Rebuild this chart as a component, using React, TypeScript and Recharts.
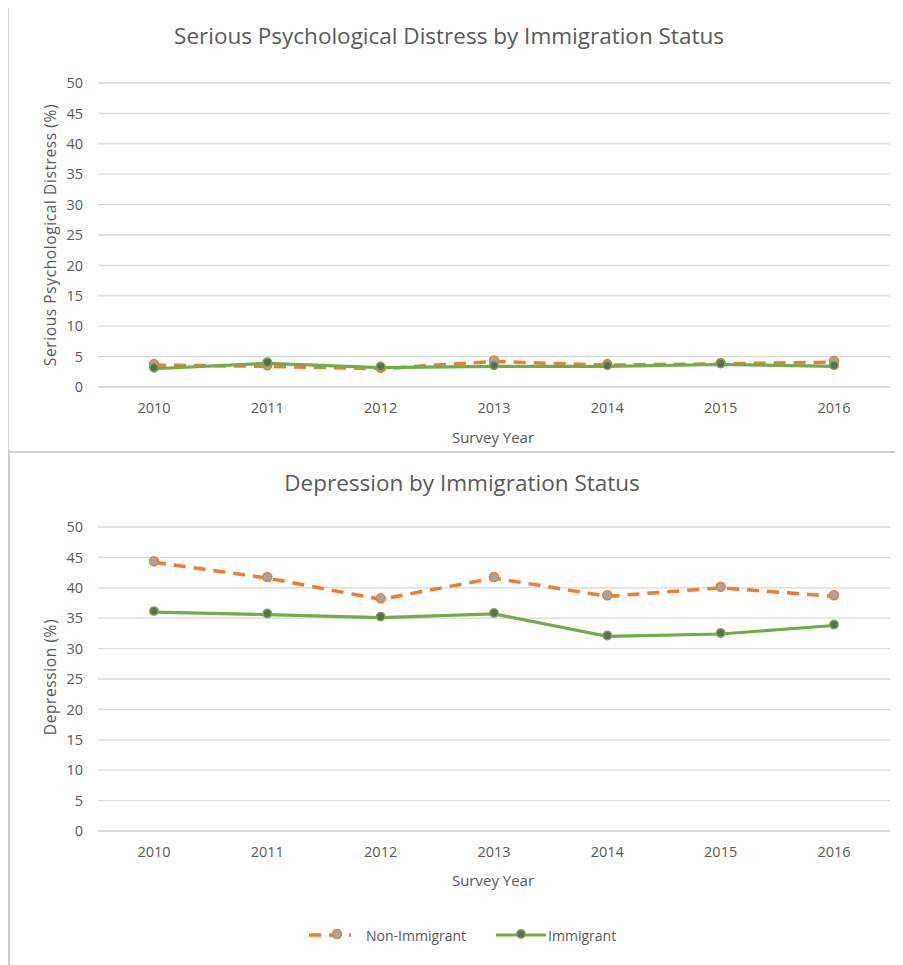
import React from 'react';
import { LineChart, Line, XAxis, YAxis, CartesianGrid } from 'recharts';

const years = ['2010', '2011', '2012', '2013', '2014', '2015', '2016'];
const spdNonImmigrant = [3.6, 3.4, 3.0, 4.2, 3.6, 3.8, 4.1];
const spdImmigrant = [3.0, 3.9, 3.2, 3.4, 3.4, 3.7, 3.4];
const depNonImmigrant = [44.2, 41.6, 38.1, 41.6, 38.6, 40.0, 38.6];
const depImmigrant = [36.0, 35.6, 35.1, 35.7, 32.0, 32.4, 33.8];
const yTicks = [0, 5, 10, 15, 20, 25, 30, 35, 40, 45, 50];

const spdData = years.map((y, i) => ({ year: y, non: spdNonImmigrant[i], imm: spdImmigrant[i] }));
const depData = years.map((y, i) => ({ year: y, non: depNonImmigrant[i], imm: depImmigrant[i] }));

const ORANGE = '#ED7D31';
const GREEN = '#70AD47';
const TEXT = '#595959';
const GRID = '#d9d9d9';
const FONT = '"Open Sans", Lato, sans-serif';

const OrangeDot = (props: any) => {
  const { cx, cy } = props;
  if (cx == null || cy == null) return null;
  return <circle cx={cx} cy={cy - 1} r={4.5} fill="#A5A5A5" stroke={ORANGE} strokeWidth={1.5} />;
};
const GreenDot = (props: any) => {
  const { cx, cy } = props;
  if (cx == null || cy == null) return null;
  return <circle cx={cx} cy={cy - 1} r={4.2} fill="#5f6b5a" stroke={GREEN} strokeWidth={1.5} />;
};

const tickStyle = { fontSize: 14.5, fill: TEXT, fontFamily: FONT };

function Panel({ data, bottomMargin }: { data: any[]; bottomMargin: number }) {
  return (
    <LineChart
      width={895}
      height={444 + bottomMargin}
      data={data}
      margin={{ top: 77, right: 13, left: 0, bottom: bottomMargin }}
    >
      <CartesianGrid vertical={false} stroke={GRID} strokeWidth={1.3} />
      <XAxis
        dataKey="year"
        height={63}
        padding={{ left: 56, right: 56 }}
        tickLine={false}
        axisLine={{ stroke: GRID, strokeWidth: 1.3 }}
        tick={tickStyle}
        tickSize={0}
        tickMargin={16}
      />
      <YAxis
        width={90}
        domain={[0, 50]}
        ticks={yTicks}
        interval={0}
        axisLine={false}
        tickLine={false}
        tick={tickStyle}
        tickSize={0}
        tickMargin={15}
      />
      <Line
        dataKey="non"
        stroke={ORANGE}
        strokeWidth={3.5}
        strokeDasharray="12 8"
        dot={<OrangeDot />}
        activeDot={false}
        isAnimationActive={false}
      />
      <Line
        dataKey="imm"
        stroke={GREEN}
        strokeWidth={3.2}
        dot={<GreenDot />}
        activeDot={false}
        isAnimationActive={false}
      />
    </LineChart>
  );
}

const abs = (style: React.CSSProperties): React.CSSProperties => ({ position: 'absolute', ...style });

export default function App() {
  return (
    <div style={{ position: 'relative', left: -8, top: -8, width: 903, height: 965, background: '#fff', overflow: 'hidden', fontFamily: FONT, color: TEXT }}>
      {/* borders */}
      <div style={abs({ left: 8, top: 6, width: 900, height: 444, borderTop: '1.5px solid #d6d6d6', borderLeft: '1.5px solid #d6d6d6', borderBottom: '2px solid #cfd4d4' })} />
      <div style={abs({ left: 8, top: 450, width: 2, height: 520, background: '#cccccc' })} />

      {/* top chart */}
      <div style={abs({ left: 8, top: 6 })}>
        <Panel data={spdData} bottomMargin={0} />
      </div>
      <div style={abs({ left: 149, top: 21, width: 600, textAlign: 'center', fontSize: 22.5, lineHeight: '30px', whiteSpace: 'nowrap' })}>
        Serious Psychological Distress by Immigration Status
      </div>
      <div style={abs({ left: 393, top: 427, width: 200, textAlign: 'center', fontSize: 15, lineHeight: '20px' })}>Survey Year</div>
      <div style={abs({ left: 50 - 150, top: 235 - 10, width: 300, textAlign: 'center', fontSize: 15.5, letterSpacing: 0.6, lineHeight: '20px', transform: 'rotate(-90deg)', whiteSpace: 'nowrap' })}>
        Serious Psychological Distress (%)
      </div>

      {/* bottom chart */}
      <div style={abs({ left: 8, top: 450 })}>
        <Panel data={depData} bottomMargin={73} />
      </div>
      <div style={abs({ left: 162, top: 468, width: 600, textAlign: 'center', fontSize: 22.5, lineHeight: '30px', whiteSpace: 'nowrap' })}>
        Depression by Immigration Status
      </div>
      <div style={abs({ left: 393, top: 870, width: 200, textAlign: 'center', fontSize: 15, lineHeight: '20px' })}>Survey Year</div>
      <div style={abs({ left: 50 - 150, top: 677 - 10, width: 300, textAlign: 'center', fontSize: 15.5, letterSpacing: 0.6, lineHeight: '20px', transform: 'rotate(-90deg)', whiteSpace: 'nowrap' })}>
        Depression (%)
      </div>

      {/* legend */}
      <div style={abs({ left: 308, top: 924, height: 22, display: 'flex', alignItems: 'center', fontSize: 14 })}>
        <svg width={44} height={12}>
          <line x1={1} y1={6} x2={43} y2={6} stroke={ORANGE} strokeWidth={3.5} strokeDasharray="12 8" />
          <circle cx={29} cy={5} r={4.5} fill="#A5A5A5" stroke={ORANGE} strokeWidth={1.5} />
        </svg>
        <span style={{ marginLeft: 14 }}>Non-Immigrant</span>
        <svg width={50} height={12} style={{ marginLeft: 30 }}>
          <line x1={0} y1={6} x2={50} y2={6} stroke={GREEN} strokeWidth={3.2} />
          <circle cx={25} cy={5} r={4.2} fill="#5f6b5a" stroke={GREEN} strokeWidth={1.5} />
        </svg>
        <span style={{ marginLeft: 2 }}>Immigrant</span>
      </div>
    </div>
  );
}
